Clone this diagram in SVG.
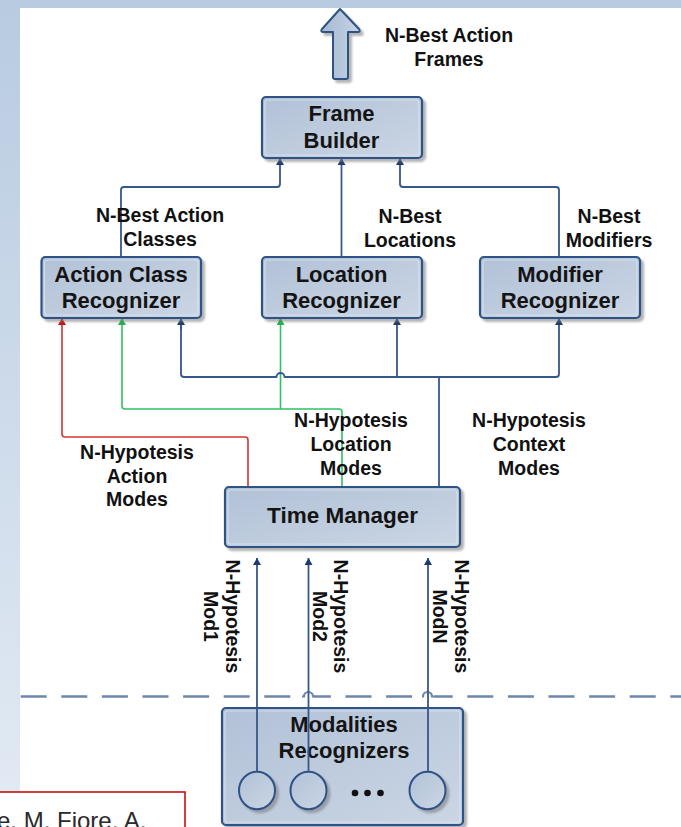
<svg xmlns="http://www.w3.org/2000/svg" width="681" height="827" viewBox="0 0 681 827">
  <defs>
    <linearGradient id="page-bg" x1="0" y1="0" x2="0" y2="1">
      <stop offset="0" stop-color="#b8cbe1"/>
      <stop offset="1" stop-color="#e3ebf4"/>
    </linearGradient>
    <linearGradient id="box-fill" x1="0" y1="0" x2="1" y2="1">
      <stop offset="0" stop-color="#b1c1d7"/>
      <stop offset="1" stop-color="#cbd6e4"/>
    </linearGradient>
    <linearGradient id="arrow-fill" x1="0" y1="0" x2="1" y2="0">
      <stop offset="0" stop-color="#a6bad4"/>
      <stop offset="1" stop-color="#c6d3e3"/>
    </linearGradient>
    <filter id="shadow" x="-10%" y="-10%" width="130%" height="140%">
      <feDropShadow dx="3" dy="3" stdDeviation="1.3" flood-color="#777" flood-opacity="0.55"/>
    </filter>
    <marker id="head-navy" viewBox="0 0 7 8" refX="7" refY="4" markerWidth="7" markerHeight="8" markerUnits="userSpaceOnUse" orient="auto">
      <path d="M0,0 L7,4 L0,8 z" fill="#1f3b6e"/>
    </marker>
    <marker id="head-red" viewBox="0 0 7 8" refX="7" refY="4" markerWidth="7" markerHeight="8" markerUnits="userSpaceOnUse" orient="auto">
      <path d="M0,0 L7,4 L0,8 z" fill="#c81414"/>
    </marker>
    <marker id="head-green" viewBox="0 0 7 8" refX="7" refY="4" markerWidth="7" markerHeight="8" markerUnits="userSpaceOnUse" orient="auto">
      <path d="M0,0 L7,4 L0,8 z" fill="#1eb24e"/>
    </marker>
  </defs>
  <style>
    .box { fill: url(#box-fill); stroke: #2d5286; stroke-width: 2.2; filter: url(#shadow); }
    .inset { fill: none; stroke: #dbe4ee; stroke-width: 1.2; opacity: 0.75; }
    .node-text { font-family: "Liberation Sans", Arial, sans-serif; font-weight: bold; font-size: 22px; fill: #141414; text-anchor: middle; }
    .label { font-family: "Liberation Sans", Arial, sans-serif; font-weight: bold; font-size: 19.5px; fill: #111; text-anchor: middle; }
    .wire { fill: none; stroke-width: 1.8; stroke-linejoin: round; stroke-linecap: butt; }
    .navy { stroke: #36578b; }
    .red { stroke: #d63434; stroke-width: 1.6; }
    .green { stroke: #30c062; stroke-width: 1.6; }
    .mod { fill: url(#box-fill); stroke: #2d5286; stroke-width: 2; filter: url(#shadow); }
  </style>

  <!-- page frame -->
  <rect x="0" y="0" width="681" height="827" fill="url(#page-bg)"/>
  <rect x="20" y="8" width="661" height="819" fill="#ffffff"/>

  <!-- separator between the system and the modality layer -->
  <g id="separator">
    <line x1="20.7" y1="696.5" x2="681" y2="696.5" stroke="#6d87aa" stroke-width="2.6" stroke-dasharray="26 14.6"/>
    <rect x="303" y="692" width="11" height="8" fill="#ffffff"/>
    <rect x="423" y="692" width="11" height="8" fill="#ffffff"/>
    <path d="M302,696.5 H304 A4.5,4.5 0 0 1 313,696.5 H315" fill="none" stroke="#6d87aa" stroke-width="2.2"/>
    <path d="M422,696.5 H423 A4.5,4.5 0 0 1 432,696.5 H434" fill="none" stroke="#6d87aa" stroke-width="2.2"/>
  </g>

  <!-- output arrow -->
  <g id="output">
    <path d="M340,9 L359,29 Q361,32 357.5,32 L348,32 L348,77 Q348,79 346,79 L335,79 Q333,79 333,77 L333,32 L323.5,32 Q320,32 322,29 Z" fill="url(#arrow-fill)" stroke="#2f5283" stroke-width="2" stroke-linejoin="round" filter="url(#shadow)"/>
    <text class="label" x="449" y="42">N-Best Action</text>
    <text class="label" x="449" y="65.5">Frames</text>
  </g>

  <!-- connectors -->
  <g id="connectors">
    <!-- recognizers to frame builder -->
    <path class="wire navy" d="M121,257 V190 Q121,187 124,187 H277 Q280,187 280,184 V158" marker-end="url(#head-navy)"/>
    <path class="wire navy" d="M341.5,257 V158" marker-end="url(#head-navy)"/>
    <path class="wire navy" d="M559,257 V190 Q559,187 556,187 H403 Q400,187 400,184 V158" marker-end="url(#head-navy)"/>

    <!-- action modes (red) -->
    <path class="wire red" d="M248,487 V440 Q248,437 245,437 H65 Q62,437 62,434 V318" marker-end="url(#head-red)"/>

    <!-- location modes (green) -->
    <path class="wire green" d="M342,487 V412 Q342,409 339,409 H125 Q122,409 122,406 V318" marker-end="url(#head-green)"/>
    <path class="wire green" d="M280.5,409 V318" marker-end="url(#head-green)"/>

    <!-- context modes (navy bus) -->
    <path class="wire navy" d="M439,487 V377"/>
    <path class="wire navy" d="M181,318 V374 Q181,377 184,377 H276.5 A4,4 0 0 1 284.5,377 H556 Q559,377 559,374 V318" marker-end="url(#head-navy)"/>
    <path class="wire navy" d="M181,330 V318" marker-end="url(#head-navy)"/>
    <path class="wire navy" d="M397,377 V318" marker-end="url(#head-navy)"/>

    <!-- modality hypotheses -->
    <path class="wire navy" d="M257,772 V558" marker-end="url(#head-navy)"/>
    <path class="wire navy" d="M308.5,772 V558" marker-end="url(#head-navy)"/>
    <path class="wire navy" d="M428,772 V558" marker-end="url(#head-navy)"/>
  </g>

  <!-- connector labels -->
  <g id="labels">
    <text class="label" x="160" y="222">N-Best Action</text>
    <text class="label" x="160" y="246">Classes</text>
    <text class="label" x="410" y="223">N-Best</text>
    <text class="label" x="410" y="247">Locations</text>
    <text class="label" x="609" y="223">N-Best</text>
    <text class="label" x="609" y="247">Modifiers</text>

    <text class="label" x="137" y="459">N-Hypotesis</text>
    <text class="label" x="137" y="482.5">Action</text>
    <text class="label" x="137" y="506">Modes</text>

    <text class="label" x="351" y="427">N-Hypotesis</text>
    <text class="label" x="351" y="451">Location</text>
    <text class="label" x="351" y="475">Modes</text>

    <text class="label" x="529" y="427">N-Hypotesis</text>
    <text class="label" x="529" y="451">Context</text>
    <text class="label" x="529" y="475">Modes</text>

    <text class="label" transform="translate(226,616.5) rotate(90)">N-Hypotesis</text>
    <text class="label" transform="translate(204,616.5) rotate(90)">Mod1</text>
    <text class="label" transform="translate(334,616.5) rotate(90)">N-Hypotesis</text>
    <text class="label" transform="translate(313,616.5) rotate(90)">Mod2</text>
    <text class="label" transform="translate(455,616.5) rotate(90)">N-Hypotesis</text>
    <text class="label" transform="translate(433,616.5) rotate(90)">ModN</text>
  </g>

  <!-- nodes -->
  <g id="frame-builder">
    <rect class="box" x="262" y="97" width="160" height="61" rx="4"/>
    <rect class="inset" x="265" y="100" width="154" height="55" rx="2.5"/>
    <text class="node-text" x="341.5" y="121">Frame</text>
    <text class="node-text" x="341.5" y="148">Builder</text>
  </g>

  <g id="action-class-recognizer">
    <rect class="box" x="41.5" y="257" width="159.5" height="61" rx="4"/>
    <rect class="inset" x="44.5" y="260" width="153.5" height="55" rx="2.5"/>
    <text class="node-text" x="121" y="281.5">Action Class</text>
    <text class="node-text" x="121" y="307.5">Recognizer</text>
  </g>

  <g id="location-recognizer">
    <rect class="box" x="262" y="257" width="160" height="61" rx="4"/>
    <rect class="inset" x="265" y="260" width="154" height="55" rx="2.5"/>
    <text class="node-text" x="341.5" y="281.5">Location</text>
    <text class="node-text" x="341.5" y="307.5">Recognizer</text>
  </g>

  <g id="modifier-recognizer">
    <rect class="box" x="480" y="257" width="160" height="61" rx="4"/>
    <rect class="inset" x="483" y="260" width="154" height="55" rx="2.5"/>
    <text class="node-text" x="560" y="281.5">Modifier</text>
    <text class="node-text" x="560" y="307.5">Recognizer</text>
  </g>

  <g id="time-manager">
    <rect class="box" x="225" y="487" width="235" height="60" rx="4"/>
    <rect class="inset" x="228" y="490" width="229" height="54" rx="2.5"/>
    <text class="node-text" x="342.5" y="523" style="font-size:22.5px">Time Manager</text>
  </g>

  <g id="modalities-recognizers">
    <rect class="box" x="222" y="708" width="241" height="117" rx="4"/>
    <rect class="inset" x="225" y="711" width="235" height="111" rx="2.5"/>
    <text class="node-text" x="344" y="731.5">Modalities</text>
    <text class="node-text" x="344" y="758">Recognizers</text>
    <ellipse class="mod" cx="257" cy="790.5" rx="18" ry="18.8"/>
    <ellipse class="mod" cx="308.5" cy="790.5" rx="18" ry="18.8"/>
    <ellipse class="mod" cx="427.5" cy="790.5" rx="18" ry="18.8"/>
    <circle cx="355" cy="793" r="3.3" fill="#111"/>
    <circle cx="367.5" cy="793" r="3.3" fill="#111"/>
    <circle cx="380.5" cy="793" r="3.3" fill="#111"/>
  </g>

  <!-- wires drawn over the modalities box -->
  <g id="modality-wires">
    <path class="wire navy" d="M257,771.7 V708"/>
    <path class="wire navy" d="M308.5,771.7 V708"/>
    <path class="wire navy" d="M428,771.7 V708"/>
  </g>

  <!-- citation box -->
  <g id="citation">
    <rect x="-2" y="792" width="187" height="40" fill="#ffffff" stroke="#c81010" stroke-width="1.6"/>
    <text x="-3" y="829" font-family="'Liberation Sans', Arial, sans-serif" font-size="24" fill="#2a2a2a">e. M. Fiore, A.</text>
  </g>
</svg>
